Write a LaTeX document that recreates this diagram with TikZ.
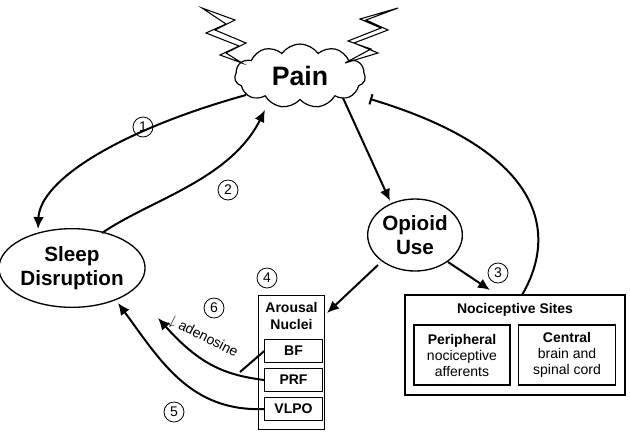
\documentclass[tikz,border=0pt]{standalone}
\usepackage{fontspec}
\setmainfont{Liberation Sans}
\usetikzlibrary{shapes.symbols,shapes.geometric,arrows.meta}
\begin{document}
\begin{tikzpicture}[x=0.75pt,y=-0.75pt,
  ell/.style={draw,ellipse,line width=1pt,font=\bfseries\fontsize{15.5}{17.5}\selectfont,align=center,inner sep=0pt},
  sub/.style={draw,line width=0.9pt,font=\bfseries\fontsize{10.5}{12}\selectfont,minimum width=43pt,minimum height=17pt,inner sep=0pt},
  box/.style={draw,line width=0.9pt},
  num/.style={draw,circle,line width=0.6pt,inner sep=1pt,minimum size=15pt,font=\fontsize{10.5}{12}\selectfont},
  arr/.style={-{Latex[length=9pt,width=8pt]},line width=1.5pt},
  bolt/.style={draw,line width=0.8pt,fill=white}]
\useasboundingbox (0,0) rectangle (630,436);
% bolts
\draw[bolt] (202,8) -- (235,20) -- (215,30) -- (246,43) -- (226,53) -- (242,63) -- (220,55) -- (239,46) -- (206,33) -- (226,24) -- cycle;
\draw[bolt] (398,8) -- (366,20) -- (388,30) -- (354,43) -- (378,53) -- (345,63) -- (371,49) -- (348,41) -- (381,28) -- (360,19) -- cycle;
\node[cloud,draw,line width=0.9pt,cloud puffs=11,cloud puff arc=110,aspect=1.8,minimum width=98pt,minimum height=48pt,inner sep=0pt,font=\bfseries\fontsize{20}{22}\selectfont] (pain) at (300,76) {Pain};
\node[ell,minimum width=103pt,minimum height=59pt] (sleep) at (72,268) {Sleep\\Disruption};
\node[ell,minimum width=71pt,minimum height=54pt] (opi) at (415,235) {Opioid\\Use};
% arousal
\node[box,minimum width=50pt,minimum height=101pt,inner sep=0pt] (ar) at (291.5,362.5) {};
\node[font=\bfseries\fontsize{10.5}{12.5}\selectfont,align=center] (art) at (291.5,316) {Arousal\\Nuclei};
\node[sub] (bf) at (293.5,351) {BF};
\node[sub] (prf) at (293.5,380) {PRF};
\node[sub] (vlpo) at (293.5,409) {VLPO};
% nociceptive
\node[box,minimum width=165pt,minimum height=75pt,inner sep=0pt] (noci) at (515,345) {};
\node[font=\bfseries\fontsize{10.5}{12}\selectfont] (nt) at (515,310) {Nociceptive Sites};
\node[box,minimum width=72pt,minimum height=45pt,inner sep=0pt,align=center,font=\fontsize{10.5}{12}\selectfont] (per) at (462,355) {\textbf{Peripheral}\\nociceptive\\afferents};
\node[box,minimum width=73pt,minimum height=45pt,inner sep=0pt,align=center,font=\fontsize{10.5}{12}\selectfont] (cen) at (567,355) {\textbf{Central}\\brain and\\spinal cord};
% numbers
\node[num] (n1) at (143,127) {1};
\node[num] (n2) at (228,190) {2};
\node[num] (n3) at (498,273) {3};
\node[num] (n4) at (267,278) {4};
\node[num] (n5) at (174,412) {5};
\node[num] (n6) at (214,308) {6};
% arrows
\coordinate (p1) at (246,95);
\coordinate (s1) at (38,229);
\draw[arr] (p1) .. controls (120,130) and (40,180) .. (s1);
\coordinate (s2) at (102,233);
\coordinate (p2) at (265,110);
\draw[arr] (s2) .. controls (150,200) and (230,180) .. (p2);
\coordinate (p3) at (343,98);
\coordinate (o3) at (390,201);
\draw[arr] (p3) -- (o3);
\coordinate (o4) at (378,265);
\coordinate (a4) at (327,313);
\draw[arr] (o4) -- (a4);
\coordinate (o5) at (448,262);
\coordinate (n5e) at (490,290);
\draw[arr] (o5) -- (n5e);
\coordinate (nb) at (522,295);
\coordinate (pb) at (370,99);
\draw[line width=1.5pt,-{Bar[width=8pt]}] (nb) .. controls (560,230) and (540,150) .. (pb);
\coordinate (jn) at (240,372);
\coordinate (s6) at (158,318);
\draw[line width=1.5pt] (bf.west) -- (jn);
\draw[arr] (prf.west) .. controls (225,375) and (200,365) .. (s6);
\coordinate (s7) at (118,303);
\draw[arr] (vlpo.west) .. controls (190,412) and (160,360) .. (s7);
\node[font=\fontsize{10.5}{12}\selectfont,rotate=-27] (ad) at (203,337) {$\downarrow$ adenosine};
\end{tikzpicture}
\end{document}
